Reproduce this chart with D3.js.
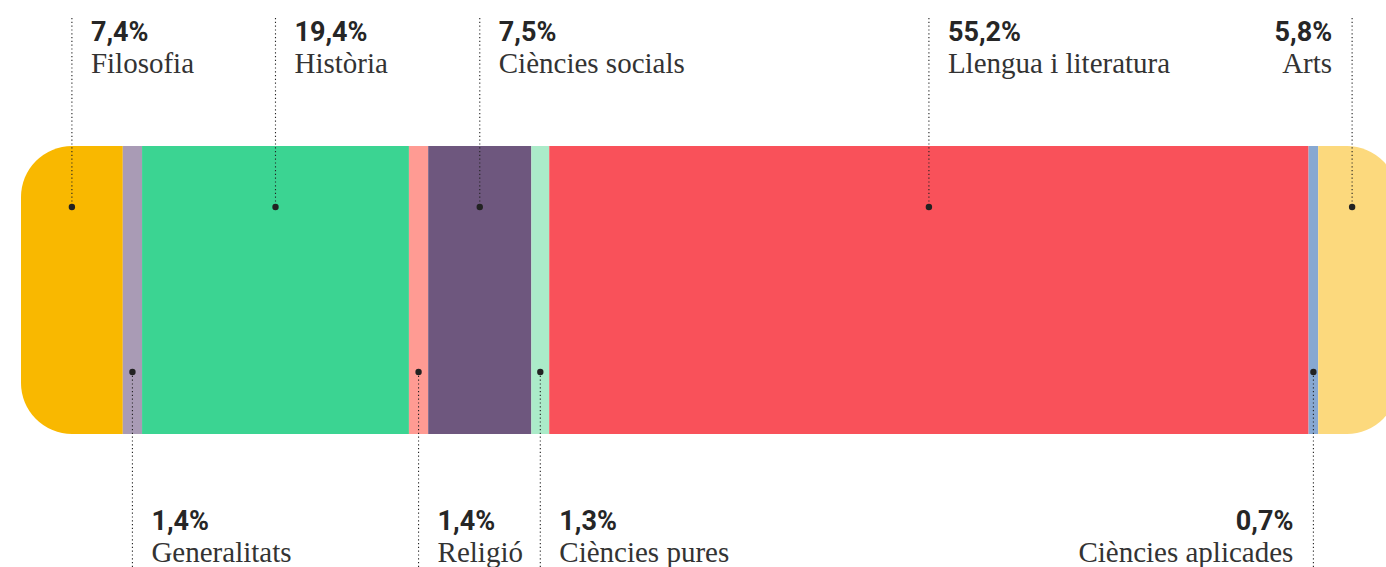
<!DOCTYPE html>
<html><head><meta charset="utf-8">
<script src="https://cdn.jsdelivr.net/npm/d3@7/dist/d3.min.js"></script>
<style>
html,body{margin:0;padding:0;background:#fff;overflow:hidden;}
svg{display:block;}
.pct{font-family:Roboto,"DejaVu Sans",sans-serif;font-weight:700;font-size:27px;fill:#262626;}
.name{font-family:"Liberation Serif","DejaVu Serif",serif;font-size:29px;fill:#333;}
</style>
</head><body>
<svg id="chart" width="1386" height="567"></svg>
<script>
const categories = ["Filosofia","Generalitats","Història","Religió","Ciències socials","Ciències pures","Llengua i literatura","Ciències aplicades","Arts"];
const values = [7.4,1.4,19.4,1.4,7.5,1.3,55.2,0.7,5.8];
const labels = ["7,4%","1,4%","19,4%","1,4%","7,5%","1,3%","55,2%","0,7%","5,8%"];
const colors = ["#F9B800","#A99BB5","#3BD492","#FF9B93","#6E577E","#ABEBC9","#F9515A","#87A8D2","#FCD97D"];

const W = 1386, H = 567;
const svg = d3.select("#chart");
const total = d3.sum(values);
const x = d3.scaleLinear().domain([0, total]).range([21, 1398]);
const barTop = 146, barBot = 434;

let cum = 0;
const segs = values.map((v,i)=>{ const s = {i, name:categories[i], label:labels[i], color:colors[i], x0:cum, x1:cum+v}; cum += v; return s; });

const defs = svg.append("defs");
defs.append("clipPath").attr("id","barclip").append("rect")
  .attr("x", x(0)).attr("y", barTop).attr("width", x(total)-x(0)).attr("height", barBot-barTop)
  .attr("rx", 51).attr("ry", 51);

const g = svg.append("g").attr("clip-path","url(#barclip)");
g.selectAll("rect").data(segs).join("rect")
  .attr("x", d=>x(d.x0)).attr("y", barTop)
  .attr("width", d=>x(d.x1)-x(d.x0)).attr("height", barBot-barTop)
  .attr("fill", d=>d.color);

const ann = svg.append("g");
segs.forEach(d=>{
  const a = x(d.x0), b = Math.min(x(d.x1), W);
  const cx = (a+b)/2;
  const top = d.i % 2 === 0;
  const dotY = top ? 207 : 372;
  const lineY0 = top ? 18 : dotY;
  const lineY1 = top ? dotY : H;
  ann.append("line").attr("x1",cx).attr("x2",cx).attr("y1",lineY0).attr("y2",lineY1)
    .attr("stroke","#222").attr("stroke-width",1.1).attr("stroke-dasharray","1.2,2.6");
  ann.append("circle").attr("cx",cx).attr("cy",dotY).attr("r",3.2).attr("fill","#222");
  const right = cx > 1100;
  const tx = right ? cx - 20 : cx + 19;
  const anchor = right ? "end" : "start";
  const pY = top ? 41 : 530;
  const nY = top ? 73 : 562;
  ann.append("text").attr("class","pct").attr("x",tx).attr("y",pY).attr("text-anchor",anchor).text(d.label);
  ann.append("text").attr("class","name").attr("x",tx).attr("y",nY).attr("text-anchor",anchor).text(d.name);
});
</script>
</body></html>
